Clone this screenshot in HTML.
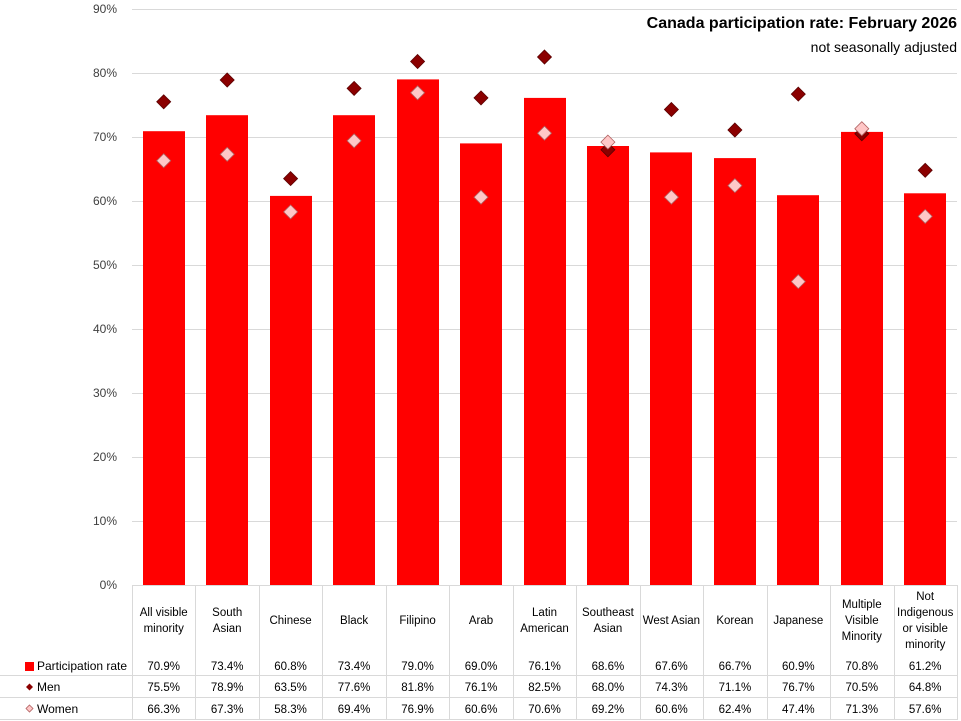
<!DOCTYPE html>
<html><head><meta charset="utf-8"><style>
body{margin:0;background:#fff}
svg{display:block;font-family:"Liberation Sans",sans-serif}
</style></head><body>
<svg width="961" height="721" viewBox="0 0 961 721" xmlns="http://www.w3.org/2000/svg">
<rect width="961" height="721" fill="#fff"/>
<g stroke="#d9d9d9" stroke-width="1">
<line x1="132" y1="521.5" x2="957" y2="521.5"/><line x1="132" y1="457.5" x2="957" y2="457.5"/>
<line x1="132" y1="393.5" x2="957" y2="393.5"/><line x1="132" y1="329.5" x2="957" y2="329.5"/>
<line x1="132" y1="265.5" x2="957" y2="265.5"/><line x1="132" y1="201.5" x2="957" y2="201.5"/>
<line x1="132" y1="137.5" x2="957" y2="137.5"/><line x1="132" y1="73.5" x2="957" y2="73.5"/>
<line x1="132" y1="9.5" x2="957" y2="9.5"/><line x1="132" y1="585.5" x2="957" y2="585.5"/>
<line x1="132.5" y1="585" x2="132.5" y2="720"/><line x1="195.5" y1="585" x2="195.5" y2="720"/>
<line x1="259.5" y1="585" x2="259.5" y2="720"/><line x1="322.5" y1="585" x2="322.5" y2="720"/>
<line x1="386.5" y1="585" x2="386.5" y2="720"/><line x1="449.5" y1="585" x2="449.5" y2="720"/>
<line x1="513.5" y1="585" x2="513.5" y2="720"/><line x1="576.5" y1="585" x2="576.5" y2="720"/>
<line x1="640.5" y1="585" x2="640.5" y2="720"/><line x1="703.5" y1="585" x2="703.5" y2="720"/>
<line x1="767.5" y1="585" x2="767.5" y2="720"/><line x1="830.5" y1="585" x2="830.5" y2="720"/>
<line x1="894.5" y1="585" x2="894.5" y2="720"/><line x1="957.5" y1="585" x2="957.5" y2="720"/>
<line x1="0" y1="675.5" x2="957" y2="675.5"/><line x1="0" y1="697.5" x2="957" y2="697.5"/>
<line x1="0" y1="719.5" x2="957" y2="719.5"/>
</g>
<g fill="#404040" font-size="12" text-anchor="end">
<text x="117" y="589">0%</text><text x="117" y="525">10%</text><text x="117" y="461">20%</text>
<text x="117" y="397">30%</text><text x="117" y="333">40%</text><text x="117" y="269">50%</text>
<text x="117" y="205">60%</text><text x="117" y="141">70%</text><text x="117" y="77">80%</text>
<text x="117" y="13">90%</text>
</g>
<text x="957" y="28" font-size="16" font-weight="bold" text-anchor="end" fill="#000">Canada participation rate: February 2026</text>
<text x="957" y="52" font-size="14" text-anchor="end" fill="#000">not seasonally adjusted</text>
<g fill="#ff0000">
<rect x="143" y="131.2" width="42" height="453.8"/><rect x="206" y="115.2" width="42" height="469.8"/>
<rect x="270" y="195.9" width="42" height="389.1"/><rect x="333" y="115.2" width="42" height="469.8"/>
<rect x="397" y="79.4" width="42" height="505.6"/><rect x="460" y="143.4" width="42" height="441.6"/>
<rect x="524" y="97.9" width="42" height="487.1"/><rect x="587" y="146" width="42" height="439"/>
<rect x="650" y="152.4" width="42" height="432.6"/><rect x="714" y="158.1" width="42" height="426.9"/>
<rect x="777" y="195.2" width="42" height="389.8"/><rect x="841" y="131.9" width="42" height="453.1"/>
<rect x="904" y="193.3" width="42" height="391.7"/>
</g>
<g fill="#8b0000" stroke="#5a0000" stroke-width="0.8">
<path d="M163.7 94.8l7 7-7 7-7-7z"/><path d="M227.2 73l7 7-7 7-7-7z"/>
<path d="M290.6 171.6l7 7-7 7-7-7z"/><path d="M354.1 81.4l7 7-7 7-7-7z"/>
<path d="M417.6 54.5l7 7-7 7-7-7z"/><path d="M481 90.9l7 7-7 7-7-7z"/>
<path d="M544.5 50l7 7-7 7-7-7z"/><path d="M607.9 142.8l7 7-7 7-7-7z"/>
<path d="M671.4 102.5l7 7-7 7-7-7z"/><path d="M734.9 123l7 7-7 7-7-7z"/>
<path d="M798.3 87.1l7 7-7 7-7-7z"/><path d="M861.8 126.8l7 7-7 7-7-7z"/>
<path d="M925.2 163.3l7 7-7 7-7-7z"/>
</g>
<g fill="#ffc7c7" stroke="#b06060" stroke-width="0.8">
<path d="M163.7 153.7l7 7-7 7-7-7z"/><path d="M227.2 147.3l7 7-7 7-7-7z"/>
<path d="M290.6 204.9l7 7-7 7-7-7z"/><path d="M354.1 133.8l7 7-7 7-7-7z"/>
<path d="M417.6 85.8l7 7-7 7-7-7z"/><path d="M481 190.2l7 7-7 7-7-7z"/>
<path d="M544.5 126.2l7 7-7 7-7-7z"/><path d="M607.9 135.1l7 7-7 7-7-7z"/>
<path d="M671.4 190.2l7 7-7 7-7-7z"/><path d="M734.9 178.6l7 7-7 7-7-7z"/>
<path d="M798.3 274.6l7 7-7 7-7-7z"/><path d="M861.8 121.7l7 7-7 7-7-7z"/>
<path d="M925.2 209.4l7 7-7 7-7-7z"/>
</g>
<g fill="#000" font-size="11.5" text-anchor="middle">
<text x="163.7" y="616">All visible</text><text x="163.7" y="632">minority</text>
<text x="227.2" y="616">South</text><text x="227.2" y="632">Asian</text>
<text x="290.6" y="624">Chinese</text>
<text x="354.1" y="624">Black</text>
<text x="417.6" y="624">Filipino</text>
<text x="481" y="624">Arab</text>
<text x="544.5" y="616">Latin</text><text x="544.5" y="632">American</text>
<text x="607.9" y="616">Southeast</text><text x="607.9" y="632">Asian</text>
<text x="671.4" y="624">West Asian</text>
<text x="734.9" y="624">Korean</text>
<text x="798.3" y="624">Japanese</text>
<text x="861.8" y="608">Multiple</text><text x="861.8" y="624">Visible</text><text x="861.8" y="640">Minority</text>
<text x="925.2" y="600">Not</text><text x="925.2" y="616">Indigenous</text><text x="925.2" y="632">or visible</text><text x="925.2" y="648">minority</text>
</g>
<g fill="#000" font-size="11.5" text-anchor="middle">
<text x="163.7" y="670">70.9%</text><text x="227.2" y="670">73.4%</text><text x="290.6" y="670">60.8%</text><text x="354.1" y="670">73.4%</text><text x="417.6" y="670">79.0%</text><text x="481" y="670">69.0%</text><text x="544.5" y="670">76.1%</text><text x="607.9" y="670">68.6%</text><text x="671.4" y="670">67.6%</text><text x="734.9" y="670">66.7%</text><text x="798.3" y="670">60.9%</text><text x="861.8" y="670">70.8%</text><text x="925.2" y="670">61.2%</text>
<text x="163.7" y="691">75.5%</text><text x="227.2" y="691">78.9%</text><text x="290.6" y="691">63.5%</text><text x="354.1" y="691">77.6%</text><text x="417.6" y="691">81.8%</text><text x="481" y="691">76.1%</text><text x="544.5" y="691">82.5%</text><text x="607.9" y="691">68.0%</text><text x="671.4" y="691">74.3%</text><text x="734.9" y="691">71.1%</text><text x="798.3" y="691">76.7%</text><text x="861.8" y="691">70.5%</text><text x="925.2" y="691">64.8%</text>
<text x="163.7" y="713">66.3%</text><text x="227.2" y="713">67.3%</text><text x="290.6" y="713">58.3%</text><text x="354.1" y="713">69.4%</text><text x="417.6" y="713">76.9%</text><text x="481" y="713">60.6%</text><text x="544.5" y="713">70.6%</text><text x="607.9" y="713">69.2%</text><text x="671.4" y="713">60.6%</text><text x="734.9" y="713">62.4%</text><text x="798.3" y="713">47.4%</text><text x="861.8" y="713">71.3%</text><text x="925.2" y="713">57.6%</text>
</g>
<rect x="25" y="662" width="9" height="9" fill="#ff0000"/>
<path d="M29.5 683.5l3.5 3.5-3.5 3.5-3.5-3.5z" fill="#8b0000"/>
<path d="M29.5 705l3.5 3.5-3.5 3.5-3.5-3.5z" fill="#ffc7c7" stroke="#b06060" stroke-width="0.8"/>
<g fill="#000" font-size="12">
<text x="37" y="670">Participation rate</text>
<text x="37" y="691">Men</text>
<text x="37" y="713">Women</text>
</g>
</svg>
</body></html>
